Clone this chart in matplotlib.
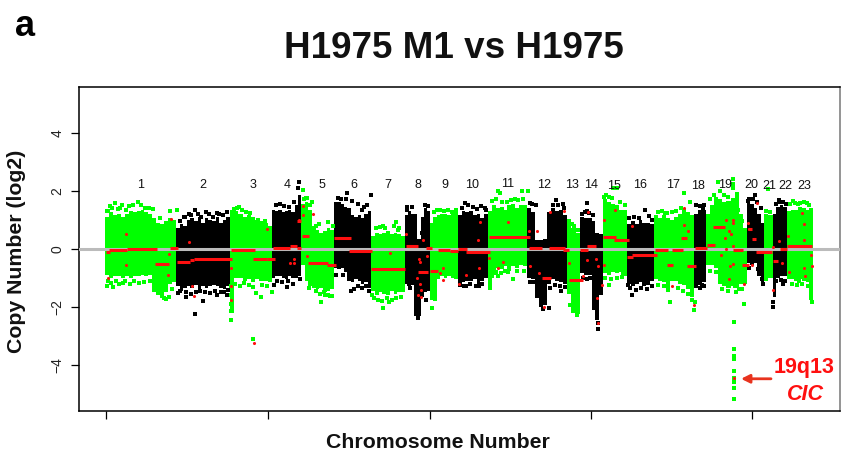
import numpy as np
import matplotlib
matplotlib.use("Agg")
import matplotlib.pyplot as plt

plt.rcParams['font.family'] = ['Liberation Sans', 'DejaVu Sans']

W, H = 841, 453
GREEN, BLACK, RED = '#00FF00', '#000000', '#FF1010'

chrom_labels = [str(i) for i in range(1, 24)]
chrom_edges = [-1, 70, 124, 166, 195, 228, 265, 299, 324, 352, 382, 421, 461, 474, 497, 521, 548, 588, 600, 641, 658, 667, 681, 707]
label_pos = [35, 97, 147, 181, 216, 248, 282, 312, 339, 366, 402, 438, 466, 485, 508, 534, 567, 592, 619, 645, 663, 679, 698]
label_val = [2.2, 2.2, 2.2, 2.2, 2.2, 2.2, 2.2, 2.2, 2.2, 2.2, 2.24, 2.2, 2.2, 2.2, 2.15, 2.2, 2.2, 2.15, 2.2, 2.2, 2.17, 2.17, 2.17]
x_ticks = [0, 162, 324, 485, 646]
y_ticks = [-4, -2, 0, 2, 4]

# upper and lower edge of the point cloud, read across each chromosome
cloud_hi = [
 [1.1,1.25,1.15,1.2,1.1,1.2,1.3,1.25,1.3,1.35,1.25,1.2,1.05,0.9,0.85,0.95,1.05,1.0],
 [0.7,0.85,0.8,1.0,1.05,0.95,1.1,0.9,1.05,1.0,0.95,1.1,0.9,1.0,1.1],
 [1.2,1.3,1.2,1.1,1.15,1.1,1.0,0.95,0.9,0.8],
 [1.35,1.3,1.35,1.25,1.3,1.35,1.25,1.5,1.85],
 [1.55,1.6,1.35,0.8,0.65,0.55,0.6,0.7,0.65],
 [1.6,1.6,1.55,1.45,1.4,1.15,1.1,1.15,1.05,1.2,1.3],
 [0.45,0.55,0.5,0.55,0.6,0.5,0.55,0.5,0.45],
 [1.15,1.3,1.2,1.2,0.35,1.1,1.4,1.3],
 [0.9,1.1,1.15,1.2,1.2,1.15,1.2,1.25],
 [1.15,1.3,1.25,1.3,1.15,1.2,1.05,1.2],
 [1.3,1.5,1.4,1.45,1.35,1.5,1.55,1.4,1.5,1.5],
 [1.4,1.25,0.3,0.3,0.35,1.25,1.4,1.3,1.35,1.15],
 [0.85,0.7,0.55],
 [1.1,1.05,1.05,0.95,0.55,0.5],
 [1.7,1.6,1.55,1.5,1.35,1.35],
 [0.85,0.95,0.85,1.0,0.9,0.9,0.85],
 [1.15,1.05,1.15,1.05,1.0,1.1,1.2,1.4,1.25,1.15],
 [1.2,1.35,1.35],
 [1.2,1.5,1.8,1.7,1.6,1.65,1.75,1.95,1.2,0.7],
 [1.6,1.55,1.4,1.2,0.9],
 [1.2,1.15],
 [1.2,1.45,1.5,1.45],
 [1.3,1.35,1.35,1.45,1.4,1.35,1.4],
]
cloud_lo = [
 [-0.9,-1.0,-0.95,-0.95,-1.0,-0.95,-1.0,-0.95,-0.95,-0.9,-0.95,-0.9,-1.5,-1.5,-1.55,-1.5,-1.2,-1.15],
 [-1.3,-1.45,-1.35,-1.3,-1.35,-1.25,-1.4,-1.3,-1.35,-1.3,-1.25,-1.3,-1.35,-1.4,-1.3],
 [-2.2,-1.0,-1.0,-1.1,-1.05,-1.15,-1.05,-1.1,-1.1,-1.15],
 [-1.0,-0.95,-0.95,-1.0,-1.05,-0.95,-1.0,-1.0,-0.95],
 [-0.55,-1.1,-1.3,-1.35,-1.4,-1.35,-1.5,-1.45,-1.4],
 [-0.65,-0.7,-0.65,-0.8,-1.1,-1.15,-1.05,-1.1,-1.2,-1.15,-1.35],
 [-1.45,-1.6,-1.5,-1.55,-1.6,-1.45,-1.55,-1.5,-1.5],
 [-1.2,-1.25,-1.25,-2.3,-2.3,-1.55,-1.5,-1.45],
 [-1.75,-1.8,-1.05,-0.95,-1.0,-0.95,-1.0,-1.05],
 [-1.2,-1.15,-1.1,-1.1,-1.05,-1.2,-1.1,-1.0],
 [-1.35,-0.9,-0.65,-0.7,-0.6,-0.75,-0.6,-0.65,-0.55,-0.6],
 [-1.0,-1.05,-1.7,-2.0,-1.95,-1.2,-1.05,-1.1,-1.15,-1.2],
 [-1.55,-2.2,-2.25],
 [-0.85,-0.9,-0.9,-2.1,-2.45,-1.6],
 [-0.85,-0.9,-0.8,-0.85,-0.8,-0.95],
 [-1.2,-1.3,-1.2,-1.15,-1.3,-1.25,-1.1],
 [-1.05,-1.1,-1.15,-1.5,-1.1,-1.1,-1.2,-1.25,-1.4,-1.65],
 [-1.2,-1.25,-1.15],
 [-0.55,-0.55,-0.65,-1.2,-1.3,-1.35,-1.3,-1.35,-1.2,-1.2],
 [-0.5,-0.55,-0.5,-0.95,-1.15],
 [-1.1,-1.0],
 [-1.65,-1.0,-0.95,-0.95],
 [-1.05,-1.05,-1.1,-1.05,-1.1,-1.15,-1.75],
]

green_pos = [9,31.7,0.7,14,4,54,64,71,0.7,6.7,17,58,62.7,52,133,125.7,147.3,125.3,154.7,150,166.3,159,152,125,125,125,125,
             197.3,199.7,206.3,222.3,209.7,215.3,203.3,224,219,277.3,289.7,277.3,283.3,265.7,292.3,325.7,334,342.3,
             392.3,394,415.7,422.3,385.7,407.3,384,399,392,470.7,464,469,463.3,507.3,510.7,503.3,498,517.3,
             578.3,564,588.3,589,559,627.3,627.3,626.7,628.3,628.3,628,628,628.3,628.3,628,627.7,628.3,
             611.7,639,638.3,619,629,633,662.3,705.7,687.3,694,700.7,693]
green_val = [1.57,1.6,1.29,1.4,1.46,1.06,1.29,1.34,-1.28,-1.32,-1.18,-1.7,-1.67,-1.53,1.44,1.25,-3.11,-2.45,-1.67,-1.53,-1.5,0.94,1.0,-1.3,-1.6,-1.9,-2.15,
             2.03,1.75,1.6,0.91,0.77,-1.84,-1.36,-1.64,-1.59,-2.05,0.92,0.8,-1.82,-1.59,0.66,-2.05,1.32,1.34,
             1.98,1.92,1.98,1.98,1.63,-1.05,-1.36,-0.78,-0.93,-2.28,-1.93,0.63,0.83,2.09,2.09,-1.24,1.8,-0.84,
             1.92,-1.85,-2.1,-1.82,1.23,2.4,2.24,2.09,-2.54,-3.46,-3.71,-3.8,-4.2,-4.46,-4.6,-4.8,-5.18,
             2.29,-1.13,-1.91,-1.18,-1.28,-1.39,2.06,-1.82,1.63,1.57,1.57,-1.1]
black_pos = [89,100,83,79,110.7,89,96.7,79.7,72,110.7,120.7,192.7,192,168,180.7,194,241.3,264.7,258.3,248.3,245,237.3,230,
             301.3,319,322.3,312.3,303.3,320,359,366.7,379,360,373.3,424,450,457.3,437.3,443.3,424,455,481.3,492.3,492.3,480.7,
             539,525.7,545.7,522.3,597.3,595.7,649,642,657.3,673.3,667.3,667.3,676.7]
black_val = [1.32,1.25,1.2,1.09,1.23,-2.25,-1.79,-1.67,-1.53,-1.6,-1.59,2.29,2.09,-1.24,-1.32,-1.05,1.92,1.86,1.44,-1.39,-1.45,-0.92,-0.92,
             1.44,1.52,1.48,-2.39,-1.22,-1.78,1.57,1.43,1.4,-1.3,-1.28,1.57,1.67,1.55,-2.08,-2.05,-1.13,-1.47,1.57,-2.78,-2.56,1.29,
             1.34,-1.59,-1.3,-1.24,1.4,-1.24,1.86,1.63,-1.2,1.69,-2.01,-1.82,-1.2]

# scattered points just outside the solid band of each chromosome
green_fringe_pos = [2,6,12,16,20,23,27,35,39,43,47,2,5,10,13,19,24,28,33,38,44,48,56,60,66,128,131,136,140,144,129,134,138,143,147,156,161,
                    198,201,204,213,227,210,214,218,222,226,268,272,276,281,286,290,295,270,274,279,288,293,328,331,338,346,350,
                    386,390,396,401,405,409,412,417,386,390,395,402,411,418,463,466,468,472,500,503,506,514,519,499,505,511,516,
                    552,556,561,566,570,575,584,552,558,562,572,577,582,586,604,608,614,618,622,632,636,604,610,616,622,630,636,
                    660,664,684,689,692,698,703,686,691,696,702]
green_fringe_val = [1.3,1.42,1.38,1.5,1.32,1.48,1.52,1.5,1.42,1.4,1.36,-1.1,-1.18,-1.12,-1.22,-1.12,-1.2,-1.12,-1.18,-1.15,-1.1,-1.15,-1.62,-1.72,-1.4,1.38,1.42,1.35,1.28,1.24,-1.2,-1.3,-1.18,-1.25,-1.32,-1.25,-1.3,
                    1.7,1.75,1.5,0.85,0.8,-1.45,-1.55,-1.5,-1.58,-1.62,-1.68,-1.75,-1.8,-1.7,-1.75,-1.7,-1.66,0.7,0.75,0.72,0.78,0.7,1.25,1.32,1.3,1.28,1.34,
                    1.65,1.7,1.62,1.6,1.68,1.72,1.68,1.7,-0.95,-0.8,-0.85,-0.8,-0.78,-0.75,0.95,0.85,0.8,0.65,1.85,1.8,1.75,1.6,1.5,-1.02,-1.05,-1.0,-0.98,
                    1.25,1.3,1.22,1.28,1.3,1.42,1.6,-1.25,-1.3,-1.4,-1.35,-1.45,-1.55,-1.78,1.7,1.85,2.0,1.85,1.8,1.35,0.95,-0.75,-0.8,-1.4,-1.45,-1.5,-1.4,
                    1.3,1.28,1.55,1.58,1.55,1.6,1.52,-1.2,-1.25,-1.22,-1.28]
black_fringe_pos = [74,78,85,92,95,103,107,113,117,121,74,80,85,90,94,99,104,109,115,118,122,170,174,178,183,188,171,176,182,187,232,235,240,246,252,256,261,
                    252,256,260,263,301,306,316,304,316,356,362,371,375,380,354,358,364,370,376,426,430,447,452,458,427,431,444,449,454,459,
                    476,479,483,487,477,481,484,523,528,533,543,546,524,530,535,541,590,594,598,590,594,598,643,647,651,655,643,652,656,670,674,677,680,670,675,679]
black_fringe_val = [0.95,1.1,1.15,1.2,1.1,1.2,1.1,1.2,1.15,1.25,-1.45,-1.5,-1.55,-1.5,-1.45,-1.48,-1.52,-1.45,-1.48,-1.5,-1.42,1.5,1.55,1.48,1.45,1.6,-1.1,-1.15,-1.12,-1.2,1.75,1.7,1.72,1.65,1.55,1.35,1.5,
                    -1.3,-1.35,-1.3,-1.45,1.35,1.45,0.55,-1.35,-1.6,1.42,1.5,1.38,1.48,1.35,-1.25,-1.3,-1.22,-1.28,-1.2,1.55,1.5,1.52,1.5,1.42,-1.15,-1.2,-1.35,-1.25,-1.3,-1.32,
                    1.2,1.25,1.22,1.15,-1.0,-1.05,-1.0,1.05,1.1,1.05,1.12,1.0,-1.35,-1.42,-1.35,-1.4,1.5,1.48,1.5,-1.3,-1.35,-1.28,1.72,1.7,1.6,1.4,-0.65,-0.7,-1.05,1.55,1.6,1.6,1.55,-1.1,-1.08,-1.1]

# segmented copy-number calls
seg_start = [0,3.3,20.7,49,64,70.7,84,88,125,147.3,160.7,166.7,184,190.7,190.7,196.3,202.3,220.7,228,243.3,265,299.7,312.3,320,324,332.3,
             344,352.3,359.7,383.3,423,435.7,443.3,457.3,463.3,474,481.3,497.3,508.3,521.3,525.7,549,560.7,565.7,575,581.3,589,600.7,607.3,
             626.7,635.7,641.7,645.7,650,666.7,674,681.3]
seg_end = [3.5,20.7,50.7,63,72.3,84,88,125.7,149,160.7,169,184,190.7,195,195,203.3,222.3,230,245,265.7,299,312.3,322.3,325.7,332.3,344,
           352.3,360.7,384,424,435.7,445,459,463.3,476.7,482.3,490,509.7,523.3,527.3,550.7,562.3,567.3,577.3,581.3,590,601.3,609,619,
           636.7,643,645.7,650,665.7,672.3,681.3,705.7]
seg_val = [-0.12,-0.06,0,-0.53,0.03,-0.45,-0.4,-0.37,-0.03,-0.36,-0.34,0.03,0.1,0.03,0.97,0.45,-0.5,-0.56,0.37,-0.07,-0.7,0.1,-0.8,0.03,-0.77,-0.05,
           -0.08,0,-0.12,0.4,0.01,-1.0,0.01,-0.03,-1.06,-0.03,0.1,0.42,0.3,-0.3,-0.2,-0.03,-0.55,-0.06,0.38,-0.6,0.02,0.14,0.75,
           -0.05,-0.57,0.67,0.33,-0.1,-0.42,-0.02,0.09]
red_pos = [20,20,2.3,62.3,63.3,64.7,83.3,85.7,88.3,125,125,125,148.3,160.7,188,188,184,193,197.3,197.3,206.7,201.3,284,300,317.3,313.3,314,321,310.7,314,314.7,311.7,315,337.3,336.7,334,
           374,372.3,373.3,360,353.3,401.7,383.3,397.3,392.3,423.3,430.7,433.3,424,438,444,458,463.3,482.3,481.3,489.7,492.3,477.3,495.7,490.7,492.3,498,509,498,525.7,578.3,578.3,582.3,565.7,588.3,
           619.7,627.3,626.7,623.3,624.7,619,627.3,620,615,627.3,624,623.3,638.3,628,650.7,642.3,643.3,648.3,645.7,667.3,667.3,673.3,670,675.7,681.7,696.3,698,698.3,704.7,705.7,699,698.3,683]
red_val = [0.52,-0.56,-1.0,-0.9,-0.17,1.02,0.24,-1.28,-1.64,-0.67,-1.3,-1.76,-3.25,0.69,-0.36,-0.5,-0.5,0.98,1.17,1.48,1.2,-0.24,-0.13,0.5,0.3,-0.35,-0.44,-0.24,-1.0,-1.2,-1.41,-1.6,-1.67,-0.67,-1.09,-0.84,
           0.92,0.31,-0.67,-0.9,-1.2,0.91,-0.32,-0.46,-0.67,0.6,0.62,-0.84,-0.59,-1.99,1.25,1.29,-0.49,1.25,-0.38,-0.36,-0.61,-0.95,-1.26,-1.7,-2.56,1.0,1.34,-0.57,0.8,1.4,0.83,0.6,-1.3,-1.95,
           1.0,1.0,0.89,0.6,0.52,0.37,0.1,0,-0.2,-0.53,-0.59,-1.03,-1.2,-4.46,1.57,0.89,0.68,0.33,-0.55,0.06,-1.41,0.25,-0.41,-0.49,0.43,1.23,0.86,0.31,-0.2,-0.6,-0.95,-0.66,-0.8]

arrow_tail = (665, -4.48)
arrow_head = (635, -4.48)

fig = plt.figure(figsize=(W / 100, H / 100), dpi=100)
ax = fig.add_axes([78.5 / W, 1 - 411 / H, (840 - 78.5) / W, (411 - 86.5) / H])
ax.set_xlim(-27.5, 734)
ax.set_ylim(-5.59, 5.59)

for i in range(23):
    color = GREEN if i % 2 == 0 else BLACK
    n = len(cloud_hi[i])
    e = np.linspace(chrom_edges[i], chrom_edges[i + 1], n + 1)
    ax.fill_between(e, cloud_lo[i] + [cloud_lo[i][-1]], cloud_hi[i] + [cloud_hi[i][-1]],
                    step='post', color=color, lw=0, zorder=2 + (i % 2) * 0.1)
    ax.text(label_pos[i], label_val[i], chrom_labels[i], ha='center', va='center', fontsize=9, color='#111111', zorder=6)

ax.scatter(green_pos + green_fringe_pos, green_val + green_fringe_val, s=5.5, marker='s', color=GREEN, lw=0, zorder=3)
ax.scatter(black_pos + black_fringe_pos, black_val + black_fringe_val, s=5.5, marker='s', color=BLACK, lw=0, zorder=3)
ax.axhline(0, color='#BBBBBB', lw=2.2, zorder=4)
ax.hlines(seg_val, seg_start, seg_end, color=RED, lw=2.2, zorder=5)
ax.scatter(red_pos, red_val, s=5, marker='o', color=RED, lw=0, zorder=5)

ax.annotate('', xy=arrow_head, xytext=arrow_tail, zorder=7,
            arrowprops=dict(arrowstyle='-|>,head_length=0.5,head_width=0.25', color='#E8331E', lw=2, shrinkA=0, shrinkB=0))

ax.set_xticks(x_ticks, labels=[])
ax.set_yticks(y_ticks, labels=['\u22124', '\u22122', '0', '2', '4'], rotation=90, va='center')
ax.tick_params(axis='both', length=5.8, width=0.9, labelsize=10, pad=4.5, labelcolor='#222222')
for s in ax.spines.values():
    s.set_linewidth(1.1)
ax.spines['right'].set_color('#777777')


def put(px, py, txt, **kw):
    fig.text(px / W, 1 - py / H, txt, ha='center', va='center', **kw)


put(25, 26, 'a', fontsize=26, fontweight='bold')
put(454, 49, 'H1975 M1 vs H1975', fontsize=26.5, fontweight='bold', color='#111111')
put(438, 443, 'Chromosome Number', fontsize=15.3, fontweight='bold', color='#111111')
put(17, 251, 'Copy Number (log2)', fontsize=15.3, fontweight='bold', rotation=90, color='#111111')
put(804, 368, '19q13', fontsize=15.5, fontweight='bold', color=RED)
put(805, 394, 'CIC', fontsize=15.5, fontweight='bold', fontstyle='italic', color=RED)

fig.savefig('out.png', dpi=100)
